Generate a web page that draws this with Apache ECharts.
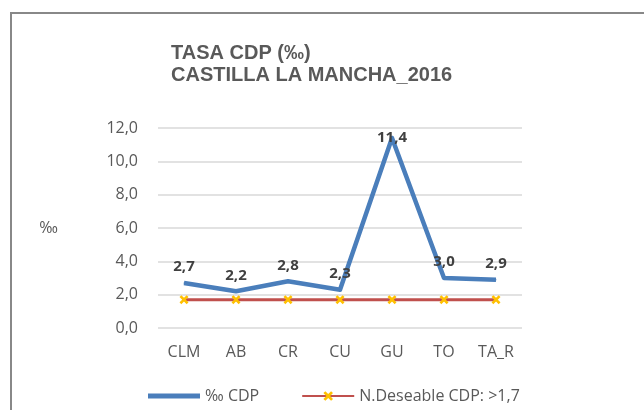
<!DOCTYPE html>
<html>
<head>
<meta charset="utf-8">
<script src="https://cdn.jsdelivr.net/npm/echarts@6/dist/echarts.min.js"></script>
<style>
  html, body { margin: 0; padding: 0; background: #fff; }
  #chart { width: 644px; height: 410px; }
</style>
</head>
<body>
<div id="chart"></div>
<script>
// datos
var categorias = ["CLM", "AB", "CR", "CU", "GU", "TO", "TA_R"];
var tasaCdp = [2.7, 2.2, 2.8, 2.3, 11.4, 3.0, 2.9];
var nivelDeseable = [1.7, 1.7, 1.7, 1.7, 1.7, 1.7, 1.7];
var ticksY = [0, 2, 4, 6, 8, 10, 12];

var gris = "#595959";
var fuente = "'Liberation Sans', Arial, sans-serif";
var fuenteEje = "'Open Sans', 'Noto Sans', sans-serif";

// coma decimal
function coma(v) {
  return Number(v).toFixed(1).replace(".", ",");
}

// la etiqueta del pico va encima de la propia línea
var maximo = Math.max.apply(null, tasaCdp);
var datosCdp = tasaCdp.map(function (v) {
  if (v === maximo) {
    return { value: v, label: { position: "inside" } };
  }
  return v;
});

var simboloX = "path://M2,0 L5,3 L8,0 L10,2 L7,5 L10,8 L8,10 L5,7 L2,10 L0,8 L3,5 L0,2 Z";
var iconoLinea = "path://M0,0 L100,0 L100,10 L0,10 Z";

var chart = echarts.init(document.getElementById("chart"));
chart.setOption({
  animation: false,
  backgroundColor: "#fff",
  textStyle: { fontFamily: fuente },
  graphic: [
    {
      type: "rect",
      shape: { x: 11, y: 13, width: 700, height: 500 },
      style: { fill: "none", stroke: "#888", lineWidth: 2 }
    },
    {
      type: "text",
      left: 171,
      top: 42,
      style: {
        text: "TASA CDP (‰)\nCASTILLA LA MANCHA_2016",
        fill: gris,
        font: "bold 20px " + fuente,
        lineHeight: 22
      }
    }
  ],
  grid: { left: 158, top: 128, width: 364, height: 200 },
  xAxis: {
    type: "category",
    data: categorias,
    boundaryGap: true,
    axisLine: { show: false },
    axisTick: { show: false },
    axisLabel: { color: gris, fontSize: 16, fontFamily: fuenteEje, margin: 16 }
  },
  yAxis: {
    type: "value",
    min: ticksY[0],
    max: ticksY[ticksY.length - 1],
    interval: 2,
    name: "‰",
    nameLocation: "middle",
    nameRotate: 0,
    nameGap: 100,
    nameTextStyle: { color: gris, fontSize: 16, fontFamily: fuenteEje },
    axisLine: { show: false },
    axisTick: { show: false },
    splitLine: { lineStyle: { color: "#d9d9d9", width: 1.5 } },
    axisLabel: { color: gris, fontSize: 16, fontFamily: fuenteEje, margin: 20, formatter: coma }
  },
  legend: {
    top: 383,
    left: 143,
    itemWidth: 52,
    itemHeight: 12,
    itemGap: 42,
    textStyle: { color: gris, fontSize: 16, fontFamily: fuenteEje },
    data: [
      { name: "‰ CDP", icon: iconoLinea },
      { name: "N.Deseable CDP: >1,7" }
    ]
  },
  series: [
    {
      name: "N.Deseable CDP: >1,7",
      type: "line",
      data: nivelDeseable,
      symbol: simboloX,
      symbolSize: 9,
      itemStyle: { color: "#ffc000" },
      lineStyle: { color: "#c0504d", width: 3 },
      z: 2
    },
    {
      name: "‰ CDP",
      type: "line",
      data: datosCdp,
      symbol: "circle",
      symbolSize: 1,
      itemStyle: { color: "#4a7ebb" },
      lineStyle: { color: "#4a7ebb", width: 4.5, join: "round" },
      label: {
        show: true,
        position: "top",
        distance: 8,
        color: "#404040",
        fontWeight: "bold",
        fontSize: 15,
        fontFamily: fuenteEje,
        formatter: function (p) { return coma(p.value); }
      },
      z: 3
    }
  ]
});
</script>
</body>
</html>
